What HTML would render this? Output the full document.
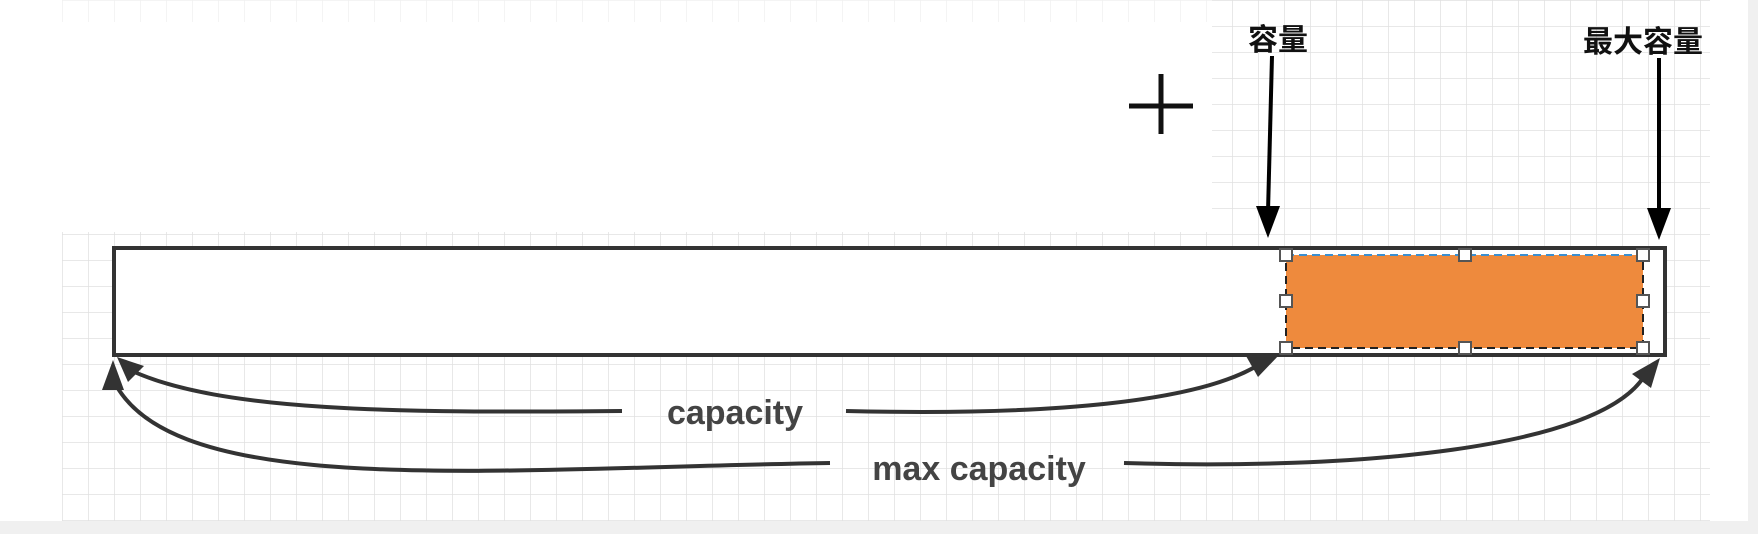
<!DOCTYPE html>
<html><head><meta charset="utf-8"><style>
html,body{margin:0;padding:0;background:#fff;}
svg{display:block;}
</style></head><body>
<svg width="1758" height="534" viewBox="0 0 1758 534" xmlns="http://www.w3.org/2000/svg">
<defs>
<pattern id="g" width="26" height="26" patternUnits="userSpaceOnUse" x="62" y="0">
<path d="M0 0H26M0 0V26" stroke="#e0e0e0" stroke-width="1.5" fill="none"/>
</pattern>
</defs>
<rect x="0" y="0" width="1758" height="534" fill="#fff"/>
<rect x="62" y="0" width="1648" height="521" fill="url(#g)"/>
<rect x="62" y="0" width="1150" height="232" fill="#fff"/>
<rect x="62" y="0" width="1150" height="22" fill="url(#g)" opacity="0.5"/>
<rect x="0" y="521" width="1758" height="13" fill="#f0f0f0"/>
<rect x="1748" y="0" width="10" height="534" fill="#f0f0f0"/>
<!-- bar -->
<rect x="114" y="248" width="1551" height="107" fill="#fff" stroke="#333" stroke-width="4"/>
<rect x="1286" y="255" width="357" height="93" fill="#ee8a3d"/>
<rect x="1286" y="255" width="357" height="93" fill="none" stroke="#222" stroke-width="2" stroke-dasharray="8,5"/>
<line x1="1286" y1="255" x2="1643" y2="255" stroke="#3b8fd0" stroke-width="2" stroke-dasharray="8,5"/>
<g fill="#fff" stroke="#555" stroke-width="2">
<rect x="1280" y="249" width="12" height="12"/><rect x="1459" y="249" width="12" height="12"/><rect x="1637" y="249" width="12" height="12"/>
<rect x="1280" y="295" width="12" height="12"/><rect x="1637" y="295" width="12" height="12"/>
<rect x="1280" y="342" width="12" height="12"/><rect x="1459" y="342" width="12" height="12"/><rect x="1637" y="342" width="12" height="12"/>
</g>
<!-- plus -->
<path d="M1129 106H1193M1161 74V134" stroke="#111" stroke-width="5"/>
<!-- top arrows -->
<text x="1278" y="50" font-family="Liberation Sans, Noto Sans CJK SC, sans-serif" font-weight="bold" font-size="30" text-anchor="middle" fill="#111">容量</text>
<text x="1643" y="52" font-family="Liberation Sans, Noto Sans CJK SC, sans-serif" font-weight="bold" font-size="30" text-anchor="middle" fill="#111">最大容量</text>
<line x1="1272" y1="56" x2="1268" y2="212" stroke="#000" stroke-width="4"/>
<polygon points="1256,206 1280,206 1268,238" fill="#000"/>
<line x1="1659" y1="58" x2="1659" y2="214" stroke="#000" stroke-width="4"/>
<polygon points="1647,208 1671,208 1659,240" fill="#000"/>
<!-- curves -->
<g fill="none" stroke="#333" stroke-width="4">
<path d="M622 411 C400 413 220 412 130 370"/>
<path d="M846 411 C1050 416 1200 402 1260 364"/>
<path d="M830 463 C500 468 180 500 116 385"/>
<path d="M1124 463 C1350 470 1600 450 1645 375"/>
</g>
<polygon points="117,357 144,366 128,382" fill="#333"/>
<polygon points="1280,354 1246,356 1258,377" fill="#333"/>
<polygon points="113,360 102,390 124,390" fill="#333"/>
<polygon points="1660,358 1632,374 1651,388" fill="#333"/>
<g font-family="Liberation Sans, sans-serif" font-weight="bold" font-size="34" fill="#444" text-anchor="middle">
<text x="735" y="424">capacity</text>
<text x="979" y="480">max capacity</text>
</g>
</svg>
</body></html>
